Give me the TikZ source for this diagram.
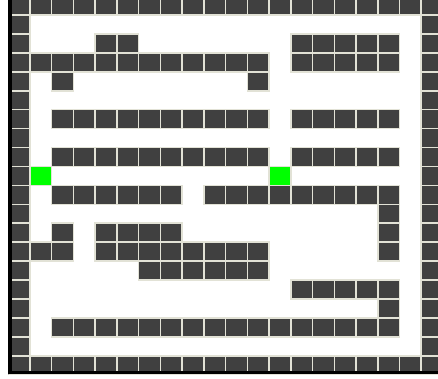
\documentclass[tikz,border=0pt]{standalone}
\definecolor{wall}{HTML}{404040}
\definecolor{gapc}{HTML}{E2E2D6}
\definecolor{goal}{HTML}{00FF00}
\begin{document}
\begin{tikzpicture}[x=1pt,y=-1pt,
  cellst/.style={fill=wall,draw=gapc,line width=1.6pt},
  goalst/.style={fill=goal,draw=gapc,line width=1.6pt}]
\useasboundingbox (0,0) rectangle (438,379);
\fill[white] (0,0) rectangle (438,379);
\def\px{21.74}
\def\py{18.93}
\def\ox{8.2}
\def\oy{-3.9}
\begin{scope}
\clip (8.3,0) rectangle (438,374);
\foreach \r/\cols in {
  0/{0,1,2,3,4,5,6,7,8,9,10,11,12,13,14,15,16,17,18,19},
  1/{0,19},
  2/{0,4,5,13,14,15,16,17,19},
  3/{0,1,2,3,4,5,6,7,8,9,10,11,13,14,15,16,17,19},
  4/{0,2,11,19},
  5/{0,19},
  6/{0,2,3,4,5,6,7,8,9,10,11,13,14,15,16,17,19},
  7/{0,19},
  8/{0,2,3,4,5,6,7,8,9,10,11,13,14,15,16,17,19},
  9/{0,19},
  10/{0,2,3,4,5,6,7,9,10,11,12,13,14,15,16,17,19},
  11/{0,17,19},
  12/{0,2,4,5,6,7,17,19},
  13/{0,1,2,4,5,6,7,8,9,10,11,17,19},
  14/{0,6,7,8,9,10,11,19},
  15/{0,13,14,15,16,17,19},
  16/{0,17,19},
  17/{0,2,3,4,5,6,7,8,9,10,11,12,13,14,15,16,17,19},
  18/{0,19},
  19/{0,1,2,3,4,5,6,7,8,9,10,11,12,13,14,15,16,17,18,19}}{
  \foreach \c in \cols {
    \draw[cellst] ({\ox+\c*\px},{\oy+\r*\py}) rectangle +(\px,\py);
  }
}
\foreach \c in {1,12} {
  \draw[goalst] ({\ox+\c*\px},{\oy+9*\py}) rectangle +(\px,\py);
}
\end{scope}
\fill[black] (8.3,0) rectangle (11.7,374);
\fill[black] (8.3,370.7) rectangle (438,374);
\end{tikzpicture}
\end{document}
